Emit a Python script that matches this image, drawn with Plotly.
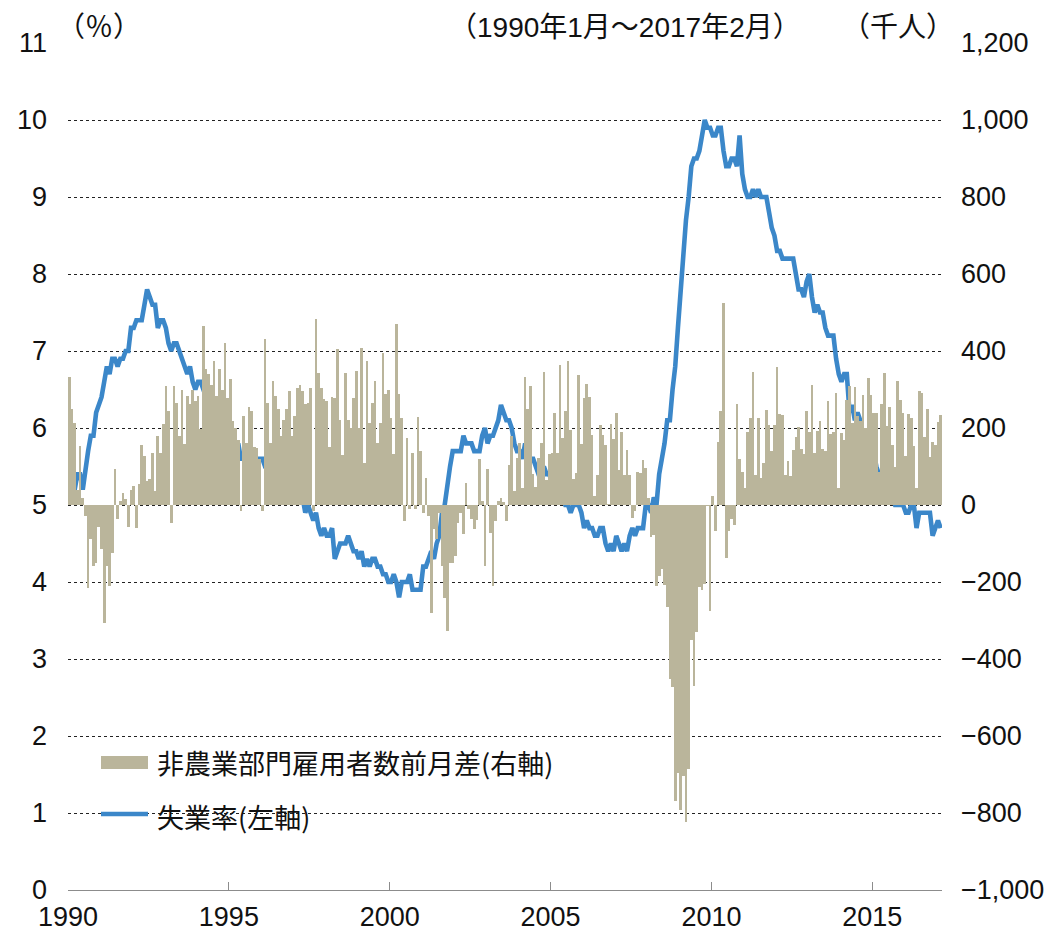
import plotly.graph_objects as go

# ---- data (monthly, Jan 1990 - Feb 2017) ----
start_year = 1990
start_month = 1

# Unemployment rate (%), left axis
unemp_rate = [
    5.4, 5.3, 5.2, 5.4, 5.4, 5.2, 5.5, 5.7, 5.9, 5.9, 6.2, 6.3,
    6.4, 6.6, 6.8, 6.7, 6.9, 6.9, 6.8, 6.9, 6.9, 7.0, 7.0, 7.3,
    7.3, 7.4, 7.4, 7.4, 7.6, 7.8, 7.7, 7.6, 7.6, 7.3, 7.4, 7.4,
    7.3, 7.1, 7.0, 7.1, 7.1, 7.0, 6.9, 6.8, 6.7, 6.8, 6.6, 6.5,
    6.6, 6.6, 6.5, 6.4, 6.1, 6.1, 6.1, 6.0, 5.9, 5.8, 5.6, 5.5,
    5.6, 5.4, 5.4, 5.8, 5.6, 5.6, 5.7, 5.7, 5.6, 5.5, 5.6, 5.6,
    5.6, 5.5, 5.5, 5.6, 5.6, 5.3, 5.5, 5.1, 5.2, 5.2, 5.4, 5.4,
    5.3, 5.2, 5.2, 5.1, 4.9, 5.0, 4.9, 4.8, 4.9, 4.7, 4.6, 4.7,
    4.6, 4.6, 4.7, 4.3, 4.4, 4.5, 4.5, 4.5, 4.6, 4.5, 4.4, 4.4,
    4.3, 4.4, 4.2, 4.3, 4.2, 4.3, 4.3, 4.2, 4.2, 4.1, 4.1, 4.0,
    4.0, 4.1, 4.0, 3.8, 4.0, 4.0, 4.0, 4.1, 3.9, 3.9, 3.9, 3.9,
    4.2, 4.2, 4.3, 4.4, 4.3, 4.5, 4.6, 4.9, 5.0, 5.3, 5.5, 5.7,
    5.7, 5.7, 5.7, 5.9, 5.8, 5.8, 5.8, 5.7, 5.7, 5.7, 5.9, 6.0,
    5.8, 5.9, 5.9, 6.0, 6.1, 6.3, 6.2, 6.1, 6.1, 6.0, 5.8, 5.7,
    5.7, 5.6, 5.8, 5.6, 5.6, 5.6, 5.5, 5.4, 5.4, 5.5, 5.4, 5.4,
    5.3, 5.4, 5.2, 5.2, 5.1, 5.0, 5.0, 4.9, 5.0, 5.0, 5.0, 4.9,
    4.7, 4.8, 4.7, 4.7, 4.6, 4.6, 4.7, 4.7, 4.5, 4.4, 4.5, 4.4,
    4.6, 4.5, 4.4, 4.5, 4.4, 4.6, 4.7, 4.6, 4.7, 4.7, 4.7, 5.0,
    5.0, 4.9, 5.1, 5.0, 5.4, 5.6, 5.8, 6.1, 6.1, 6.5, 6.8, 7.3,
    7.8, 8.3, 8.7, 9.0, 9.4, 9.5, 9.5, 9.6, 9.8, 10.0, 9.9, 9.9,
    9.8, 9.8, 9.9, 9.9, 9.6, 9.4, 9.4, 9.5, 9.5, 9.4, 9.8, 9.3,
    9.1, 9.0, 9.0, 9.1, 9.0, 9.1, 9.0, 9.0, 9.0, 8.8, 8.6, 8.5,
    8.3, 8.3, 8.2, 8.2, 8.2, 8.2, 8.2, 8.0, 7.8, 7.8, 7.7, 7.9,
    8.0, 7.7, 7.5, 7.6, 7.5, 7.5, 7.3, 7.2, 7.2, 7.2, 6.9, 6.7,
    6.6, 6.7, 6.7, 6.2, 6.3, 6.1, 6.2, 6.1, 5.9, 5.7, 5.8, 5.6,
    5.7, 5.5, 5.4, 5.4, 5.6, 5.3, 5.2, 5.1, 5.0, 5.0, 5.0, 5.0,
    4.9, 4.9, 5.0, 5.0, 4.7, 4.9, 4.9, 4.9, 4.9, 4.9, 4.6, 4.7,
    4.8, 4.7,
]

# Nonfarm payroll change from previous month (thousand persons), right axis
payroll_change = [
    333, 249, 214, 40, 152, 19, -29, -215, -89, -158, -150, -56,
    -115, -306, -158, -210, -124, 93, -37, 10, 32, 15, -56, 40,
    49, -61, 54, 156, 127, 62, 67, 136, 36, 179, 136, 210,
    309, 244, -46, 309, 266, 179, 300, 158, 283, 262, 300, 270,
    283, 197, 465, 352, 340, 313, 374, 283, 352, 300, 422, 279,
    326, 218, 200, 170, -16, 231, 160, 255, 244, 150, 148, 120,
    -16, 430, 266, 162, 322, 283, 249, 179, 222, 249, 296, 180,
    231, 305, 313, 296, 262, 266, 305, -16, 482, 344, 305, 275,
    270, 150, 280, 279, 404, 222, 129, 344, 222, 200, 279, 348,
    201, 409, 110, 374, 214, 266, 322, 162, 214, 396, 288, 300,
    227, 132, 469, 288, 227, -42, 175, -11, 136, -11, 229, 140,
    -20, 71, -29, -280, -63, -89, -20, -158, -241, -327, -150, -150,
    -132, -46, -20, -76, 58, -10, -37, -63, -40, 120, 10, -158,
    93, -72, -210, -42, 10, 19, 8, -42, 103, 179, 36, 123,
    161, 44, 332, 249, 310, 81, 46, 122, 160, 345, 64, 132,
    134, 239, 134, 363, 175, 245, 374, 195, 67, 84, 337, 159,
    278, 315, 280, 182, 23, 77, 207, 181, 157, 2, 210, 171,
    240, 90, 189, 79, 143, 78, -33, -16, 85, 82, 118, 97,
    17, -84, -78, -210, -185, -165, -209, -266, -452, -473, -769, -695,
    -791, -703, -823, -686, -351, -470, -329, -213, -220, -204, -2, -275,
    23, -68, 164, 243, 524, -137, -68, -36, -52, 262, 119, 87,
    43, 189, 225, 346, 77, 225, 69, 110, 248, 209, 141, 209,
    358, 237, 233, 78, 115, 76, 143, 177, 203, 146, 132, 244,
    190, 311, 135, 192, 218, 146, 140, 269, 185, 189, 291, 45,
    187, 168, 272, 310, 213, 306, 232, 218, 286, 200, 331, 286,
    239, 238, 86, 262, 344, 206, 254, 157, 100, 321, 272, 239,
    126, 237, 225, 153, 43, 297, 291, 176, 249, 124, 164, 155,
    216, 235,
]

year_ticks = [1990, 1995, 2000, 2005, 2010, 2015]
left_ticks = list(range(0, 12))
right_ticks = list(range(-1000, 1201, 200))

bar_name = "非農業部門雇用者数前月差(右軸)"
line_name = "失業率(左軸)"

# month position as decimal year (centre of each month)
n = len(unemp_rate)
x_pos = [start_year + (start_month - 1 + i + 0.5) / 12 for i in range(n)]
x_end = start_year + (start_month - 1 + n) / 12

BAR_COLOR = "#bab59b"
LINE_COLOR = "#3b87c9"
NUM_FONT = "Liberation Sans, Arial, sans-serif"
JP_FONT = "Noto Sans CJK JP, sans-serif"
HDR_FAMILY = "Liberation Sans, Noto Sans CJK JP, sans-serif"

fig = go.Figure()
fig.add_trace(go.Bar(
    x=x_pos, y=payroll_change, yaxis="y2", name=bar_name,
    marker=dict(color=BAR_COLOR, line=dict(width=0)),
    width=1 / 12,
))
fig.add_trace(go.Scatter(
    x=x_pos, y=unemp_rate, yaxis="y", name=line_name, mode="lines",
    line=dict(color=LINE_COLOR, width=4.6),
))

# page body has an 8px margin: figure is sized/offset accordingly
fig.update_layout(
    width=1052, height=929,
    margin=dict(l=60, r=118, t=35, b=47, autoexpand=False),
    paper_bgcolor="white", plot_bgcolor="white",
    bargap=0,
    showlegend=False,
    xaxis=dict(
        range=[start_year, x_end],
        tickvals=year_ticks, ticktext=[str(y) for y in year_ticks],
        showgrid=False, zeroline=False,
        showline=True, linecolor="#8c8c8c", linewidth=1,
        ticks="inside", ticklen=8, tickcolor="#8c8c8c", tickwidth=1,
        tickfont=dict(family=NUM_FONT, size=27, color="#111"),
        ticklabelstandoff=3,
    ),
    yaxis=dict(
        range=[0, 11], tickvals=left_ticks,
        showgrid=True, gridcolor="#222", griddash="dot", gridwidth=1,
        zeroline=False, showline=False, ticks="",
        tickfont=dict(family=NUM_FONT, size=27, color="#111"),
        ticklabelstandoff=20,
    ),
    yaxis2=dict(
        range=[-1000, 1200], tickvals=right_ticks, tickformat=",d",
        overlaying="y", side="right",
        showgrid=False, zeroline=False, showline=False, ticks="",
        tickfont=dict(family=NUM_FONT, size=27, color="#111"),
        ticklabelstandoff=18,
    ),
)

# helpers: reference-pixel -> paper coordinates of the plot area
PX0, PX1, PY0, PY1 = 68, 942, 43, 890
def px(x):
    return (x - PX0) / (PX1 - PX0)
def py(y):
    return (PY1 - y) / (PY1 - PY0)

# legend (white box, swatches, labels)
fig.add_shape(type="rect", xref="paper", yref="paper", layer="between",
              x0=px(70), x1=px(594), y0=py(832), y1=py(727),
              fillcolor="white", line=dict(width=0))
fig.add_shape(type="rect", xref="paper", yref="paper", layer="above",
              x0=px(101), x1=px(148), y0=py(769), y1=py(756),
              fillcolor=BAR_COLOR, line=dict(width=0))
fig.add_shape(type="line", xref="paper", yref="paper", layer="above",
              x0=px(101), x1=px(148), y0=py(814), y1=py(814),
              line=dict(color=LINE_COLOR, width=4.6))
LEG_FONT = dict(family=JP_FONT, size=27, color="#111")
fig.add_annotation(text=bar_name, xref="paper", yref="paper", x=px(155), y=py(762),
                   xanchor="left", yanchor="middle", showarrow=False, font=LEG_FONT)
fig.add_annotation(text=line_name, xref="paper", yref="paper", x=px(155), y=py(816),
                   xanchor="left", yanchor="middle", showarrow=False, font=LEG_FONT)

# header texts
HDR_FONT = dict(family=HDR_FAMILY, size=28, color="#111")
fig.add_annotation(text="（％）", xref="paper", yref="paper", x=px(55), y=py(28),
                   xanchor="left", yanchor="middle", showarrow=False, font=HDR_FONT)
fig.add_annotation(text="（1990年1月～2017年2月）", xref="paper", yref="paper", x=px(803), y=py(28),
                   xanchor="right", yanchor="middle", showarrow=False, font=HDR_FONT)
fig.add_annotation(text="（千人）", xref="paper", yref="paper", x=px(956), y=py(28),
                   xanchor="right", yanchor="middle", showarrow=False, font=HDR_FONT)

fig.write_html("out.html")
